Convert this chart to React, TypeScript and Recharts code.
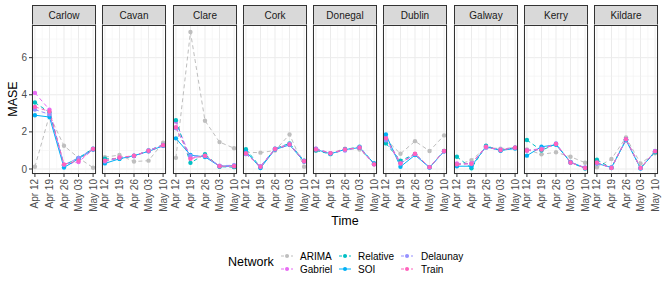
import React from "react";
import { LineChart, Line, XAxis, YAxis, CartesianGrid, ReferenceLine } from "recharts";

const counties = ["Carlow", "Cavan", "Clare", "Cork", "Donegal", "Dublin", "Galway", "Kerry", "Kildare"];
const dayOffsets = [0, 7, 14, 21, 28];
const tickLabels = ["Apr 12", "Apr 19", "Apr 26", "May 03", "May 10"];

// one row of 5 weekly values per county
const arima = [
  [0.12, 2.9, 1.25, 0.6, 0.07],
  [0.64, 0.75, 0.4, 0.45, 1.42],
  [0.6, 7.38, 2.6, 1.45, 1.12],
  [0.9, 0.88, 1.0, 1.86, 0.12],
  [1.0, 0.85, 1.1, 1.05, 0.3],
  [1.6, 0.82, 1.5, 0.97, 1.81],
  [0.2, 0.48, 1.15, 1.1, 1.15],
  [1.05, 0.79, 0.9, 0.66, 0.34],
  [0.09, 0.54, 1.7, 0.3, 0.85],
];
const gabriel = [
  [4.1, 3.2, 0.22, 0.38, 1.05],
  [0.45, 0.6, 0.7, 0.95, 1.25],
  [2.55, 0.6, 0.7, 0.15, 0.12],
  [0.85, 0.12, 1.05, 1.3, 0.4],
  [1.1, 0.85, 1.05, 1.15, 0.25],
  [1.7, 0.35, 0.8, 0.1, 0.95],
  [0.3, 0.3, 1.2, 1.0, 1.15],
  [1.0, 1.05, 1.35, 0.35, 0.05],
  [0.35, 0.05, 1.6, 0.05, 0.95],
];
const relative = [
  [3.58, 3.05, 0.2, 0.6, 1.1],
  [0.55, 0.55, 0.7, 1.0, 1.3],
  [2.63, 0.33, 0.8, 0.12, 0.1],
  [1.07, 0.1, 1.1, 1.38, 0.45],
  [1.0, 0.8, 1.05, 1.2, 0.28],
  [1.38, 0.45, 0.8, 0.1, 0.97],
  [0.66, 0.04, 1.25, 1.0, 1.15],
  [1.56, 1.0, 1.35, 0.35, 0.03],
  [0.5, 0.05, 1.6, 0.05, 0.9],
];
const soi = [
  [2.9, 2.8, 0.08, 0.55, 1.05],
  [0.3, 0.55, 0.72, 0.95, 1.25],
  [1.65, 0.75, 0.65, 0.15, 0.18],
  [0.95, 0.05, 1.05, 1.3, 0.4],
  [1.05, 0.82, 1.05, 1.15, 0.3],
  [1.86, 0.12, 0.75, 0.08, 0.95],
  [0.15, 0.15, 1.2, 1.0, 1.1],
  [0.72, 1.2, 1.3, 0.38, 0.05],
  [0.3, 0.08, 1.55, 0.03, 0.95],
];
const delaunay = [
  [3.2, 2.95, 0.22, 0.6, 1.1],
  [0.4, 0.6, 0.7, 1.0, 1.3],
  [2.2, 0.7, 0.7, 0.18, 0.2],
  [0.8, 0.15, 1.1, 1.35, 0.45],
  [1.1, 0.85, 1.0, 1.18, 0.25],
  [1.55, 0.3, 0.8, 0.1, 0.95],
  [0.25, 0.3, 1.15, 1.05, 1.15],
  [1.0, 1.1, 1.38, 0.35, 0.08],
  [0.3, 0.08, 1.6, 0.05, 0.97],
];
const train = [
  [3.35, 3.1, 0.25, 0.45, 1.08],
  [0.45, 0.62, 0.72, 0.98, 1.28],
  [2.25, 0.55, 0.72, 0.15, 0.15],
  [0.85, 0.12, 1.08, 1.32, 0.42],
  [1.05, 0.85, 1.05, 1.15, 0.25],
  [1.65, 0.3, 0.82, 0.1, 0.97],
  [0.25, 0.28, 1.2, 1.02, 1.15],
  [1.0, 1.05, 1.35, 0.35, 0.05],
  [0.35, 0.06, 1.6, 0.05, 0.95],
];

const series = [
  { name: "ARIMA", values: arima, color: "#BEBEBE", dash: "4 3" },
  { name: "Gabriel", values: gabriel, color: "#E76BF3", dash: "4 3" },
  { name: "Relative", values: relative, color: "#00BFC4", dash: "4 3" },
  { name: "SOI", values: soi, color: "#00B0F6", dash: undefined },
  { name: "Delaunay", values: delaunay, color: "#9590FF", dash: "4 3" },
  { name: "Train", values: train, color: "#FF62BC", dash: "4 3" },
];

const FONT = "'Liberation Sans', Arial, sans-serif";
const PLOT_TOP = 25;
const PLOT_H = 149;
const PANEL_W = 64;
const XAXIS_H = 45;
const YAXIS_W = 26;

function panelRows(ci: number) {
  return dayOffsets.map((t, i) => {
    const row: Record<string, number> = { t };
    series.forEach((s) => (row[s.name] = s.values[ci][i]));
    return row;
  });
}

const XTick = (props: any) => {
  const { x, y, payload } = props;
  const label = tickLabels[dayOffsets.indexOf(payload.value)];
  return (
    <text
      x={x}
      y={y}
      transform={`rotate(-90, ${x}, ${y})`}
      textAnchor="end"
      dominantBaseline="central"
      fontSize={10}
      fill="#4D4D4D"
      fontFamily={FONT}
    >
      {label}
    </text>
  );
};

function Panel({ ci }: { ci: number }) {
  const left = Math.round(32 + ci * 70.25);
  const withY = ci === 0;
  const yw = withY ? YAXIS_W : 0;
  return (
    <>
      <div
        style={{
          position: "absolute",
          left,
          top: 5,
          width: PANEL_W,
          height: 20,
          boxSizing: "border-box",
          background: "#D9D9D9",
          border: "1px solid #333",
          borderBottom: "none",
          fontSize: 10,
          color: "#1A1A1A",
          textAlign: "center",
          lineHeight: "19px",
        }}
      >
        {counties[ci]}
      </div>
      <div style={{ position: "absolute", left: left - yw, top: PLOT_TOP }}>
        <LineChart
          width={PANEL_W + yw}
          height={PLOT_H + XAXIS_H}
          data={panelRows(ci)}
          margin={{ top: 0, right: 0, bottom: 0, left: 0 }}
          style={{ overflow: "visible" }}
        >
          <CartesianGrid stroke="#EBEBEB" strokeWidth={1} />
          {[3.5, 10.5, 17.5, 24.5].map((v) => (
            <ReferenceLine key={"vx" + v} x={v} stroke="#F2F2F2" strokeWidth={0.6} />
          ))}
          {[1, 3, 5, 7].map((v) => (
            <ReferenceLine key={"hy" + v} y={v} stroke="#F2F2F2" strokeWidth={0.6} />
          ))}
          <XAxis
            type="number"
            dataKey="t"
            domain={[-1.4, 29.4]}
            ticks={dayOffsets}
            interval={0}
            height={XAXIS_H}
            axisLine={false}
            tickSize={3}
            tickMargin={2}
            tickLine={{ stroke: "#333" }}
            tick={<XTick />}
          />
          <YAxis
            type="number"
            domain={[-0.27, 7.76]}
            ticks={[0, 2, 4, 6]}
            hide={!withY}
            width={YAXIS_W}
            axisLine={false}
            tickSize={3}
            tickMargin={2}
            tickLine={{ stroke: "#333" }}
            tick={{ fontSize: 10, fill: "#4D4D4D", fontFamily: FONT }}
          />
          {series.map((s) => (
            <Line
              key={s.name}
              type="linear"
              dataKey={s.name}
              stroke={s.color}
              strokeWidth={1}
              strokeDasharray={s.dash}
              dot={{ r: 2.2, fill: s.color, stroke: s.color, strokeWidth: 0 }}
              activeDot={false}
              isAnimationActive={false}
            />
          ))}
        </LineChart>
      </div>
      <div
        style={{
          position: "absolute",
          left,
          top: PLOT_TOP,
          width: PANEL_W,
          height: PLOT_H,
          boxSizing: "border-box",
          border: "1px solid #333",
          pointerEvents: "none",
        }}
      />
    </>
  );
}

function LegendKey({ color, dash }: { color: string; dash?: string }) {
  return (
    <svg width={14} height={10} style={{ position: "absolute", left: -7, top: -5 }}>
      <line x1={1} y1={5} x2={13} y2={5} stroke={color} strokeWidth={1} strokeDasharray={dash ? "3 2" : undefined} />
      <circle cx={7} cy={5} r={2} fill={color} />
    </svg>
  );
}

export default function App() {
  const cols = [287, 345, 407];
  const labelX = [300, 358, 421];
  const rows = [255.5, 268.5];
  return (
    <div
      style={{
        position: "absolute",
        left: 0,
        top: 0,
        width: 664,
        height: 288,
        background: "#fff",
        fontFamily: FONT,
        overflow: "hidden",
      }}
    >
      <style>{`.recharts-surface, .recharts-wrapper { overflow: visible !important; }`}</style>
      {counties.map((c, i) => (
        <Panel key={c} ci={i} />
      ))}
      <div
        style={{
          position: "absolute",
          left: 13,
          top: 99,
          transform: "translate(-50%, -50%) rotate(-90deg)",
          fontSize: 12.5,
          color: "#000",
        }}
      >
        MASE
      </div>
      <div
        style={{
          position: "absolute",
          left: 345,
          top: 221,
          transform: "translate(-50%, -50%)",
          fontSize: 12.5,
          color: "#000",
        }}
      >
        Time
      </div>
      <div
        style={{
          position: "absolute",
          left: 228,
          top: 262,
          transform: "translateY(-50%)",
          fontSize: 12.5,
          color: "#000",
        }}
      >
        Network
      </div>
      {series.map((s, i) => {
        const col = Math.floor(i / 2);
        const row = i % 2;
        return (
          <React.Fragment key={s.name}>
            <div style={{ position: "absolute", left: cols[col], top: rows[row] }}>
              <LegendKey color={s.color} dash={s.dash} />
            </div>
            <div
              style={{
                position: "absolute",
                left: labelX[col],
                top: rows[row],
                transform: "translateY(-50%)",
                fontSize: 10,
                color: "#000",
                whiteSpace: "nowrap",
              }}
            >
              {s.name}
            </div>
          </React.Fragment>
        );
      })}
    </div>
  );
}
